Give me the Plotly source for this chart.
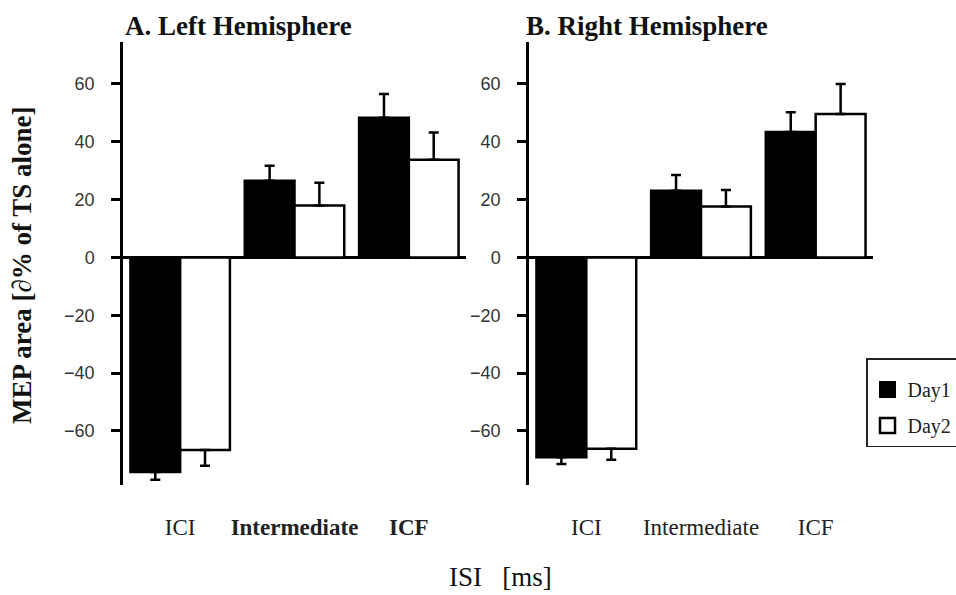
import plotly.graph_objects as go

categories = ["ICI", "Intermediate", "ICF"]
left_ticktext = ["ICI", "<b>Intermediate</b>", "<b>ICF</b>"]
right_ticktext = ["ICI", "Intermediate", "ICF"]

left_day1 = [-74.2, 26.5, 48.3]
left_day1_err = [2.7, 5.2, 8.2]
left_day2 = [-66.6, 18.0, 33.8]
left_day2_err = [5.4, 7.8, 9.4]

right_day1 = [-69.1, 23.1, 43.4]
right_day1_err = [2.3, 5.4, 6.8]
right_day2 = [-66.2, 17.6, 49.6]
right_day2_err = [3.8, 5.7, 10.4]

y_ticks = [-60, -40, -20, 0, 20, 40, 60]

W, H = 956, 595
SERIF = "Liberation Serif, Times New Roman, serif"
SANS = "Liberation Sans, Arial, sans-serif"


def err(vals, errs):
    plus = [e if v >= 0 else 0 for v, e in zip(vals, errs)]
    minus = [e if v < 0 else 0 for v, e in zip(vals, errs)]
    return dict(type="data", symmetric=False, array=plus, arrayminus=minus,
                color="black", thickness=2.5, width=5)


fig = go.Figure()
for xa, ya, d1, e1, d2, e2 in [
    ("x", "y", left_day1, left_day1_err, left_day2, left_day2_err),
    ("x2", "y2", right_day1, right_day1_err, right_day2, right_day2_err),
]:
    fig.add_trace(go.Bar(x=categories, y=d1, xaxis=xa, yaxis=ya, name="Day1",
                         marker=dict(color="black", line=dict(color="black", width=2.5)),
                         error_y=err(d1, e1), showlegend=False))
    fig.add_trace(go.Bar(x=categories, y=d2, xaxis=xa, yaxis=ya, name="Day2",
                         marker=dict(color="white", line=dict(color="black", width=2.5)),
                         error_y=err(d2, e2), showlegend=False))

# legend entries
fig.add_trace(go.Scatter(x=[None], y=[None], mode="markers", name="Day1", legendgroup="a",
                         marker=dict(symbol="square", size=15, color="black",
                                     line=dict(color="black", width=2))))
fig.add_trace(go.Scatter(x=[None], y=[None], mode="markers", name="Day2", legendgroup="b",
                         marker=dict(symbol="square", size=15, color="white",
                                     line=dict(color="black", width=2.5))))

yr = [-78.7, 74.5]
ydom = [1 - 485 / H, 1 - 42 / H]

common_y = dict(range=yr, domain=ydom, tickvals=y_ticks, showgrid=False,
                zeroline=True, zerolinecolor="black", zerolinewidth=2.5,
                showline=True, linecolor="black", linewidth=2.5,
                ticks="outside", ticklen=9, tickwidth=2.5, tickcolor="black",
                ticklabelstandoff=13,
                tickfont=dict(family=SANS, size=18, color="#333"))
common_x = dict(type="category", range=[-0.5, 2.5], showgrid=False, zeroline=False,
                showline=False, ticks="", ticklabelstandoff=26,
                tickvals=categories,
                tickfont=dict(family=SERIF, size=23, color="#222"))

fig.update_layout(
    width=W, height=H,
    margin=dict(l=0, r=0, t=0, b=0, autoexpand=False),
    paper_bgcolor="white", plot_bgcolor="white",
    barmode="group", bargap=0.13, bargroupgap=0,
    xaxis=dict(common_x, domain=[123 / W, 466 / W], ticktext=left_ticktext, anchor="y"),
    yaxis=dict(common_y, anchor="x"),
    xaxis2=dict(common_x, domain=[529 / W, 873 / W], ticktext=right_ticktext, anchor="y2"),
    yaxis2=dict(common_y, anchor="x2"),
    legend=dict(x=866 / W, y=1 - 358 / H, xanchor="left", yanchor="top",
                bordercolor="#222", borderwidth=1.5, bgcolor="white",
                font=dict(family=SERIF, size=20, color="#222"),
                title=dict(text=" ", font=dict(size=8)),
                tracegroupgap=7, itemsizing="trace"),
    annotations=[
        dict(text="<b>A. Left Hemisphere</b>", x=123 / W, y=1 - 26 / H, xref="paper", yref="paper",
             xanchor="left", yanchor="middle", showarrow=False,
             font=dict(family=SERIF, size=27, color="#111")),
        dict(text="<b>B. Right Hemisphere</b>", x=524 / W, y=1 - 26 / H, xref="paper", yref="paper",
             xanchor="left", yanchor="middle", showarrow=False,
             font=dict(family=SERIF, size=27, color="#111")),
        dict(text="<b>MEP area [∂% of TS alone]</b>", x=22 / W, y=1 - 265 / H, xref="paper", yref="paper",
             xanchor="center", yanchor="middle", showarrow=False, textangle=-90,
             font=dict(family=SERIF, size=27, color="#111")),
        dict(text="ISI   [ms]", x=500 / W, y=1 - 577 / H, xref="paper", yref="paper",
             xanchor="center", yanchor="middle", showarrow=False,
             font=dict(family=SERIF, size=27, color="#111")),
    ],
)

fig.write_html("out.html", config={"displayModeBar": False},
               post_script="document.body.style.margin='0';")
